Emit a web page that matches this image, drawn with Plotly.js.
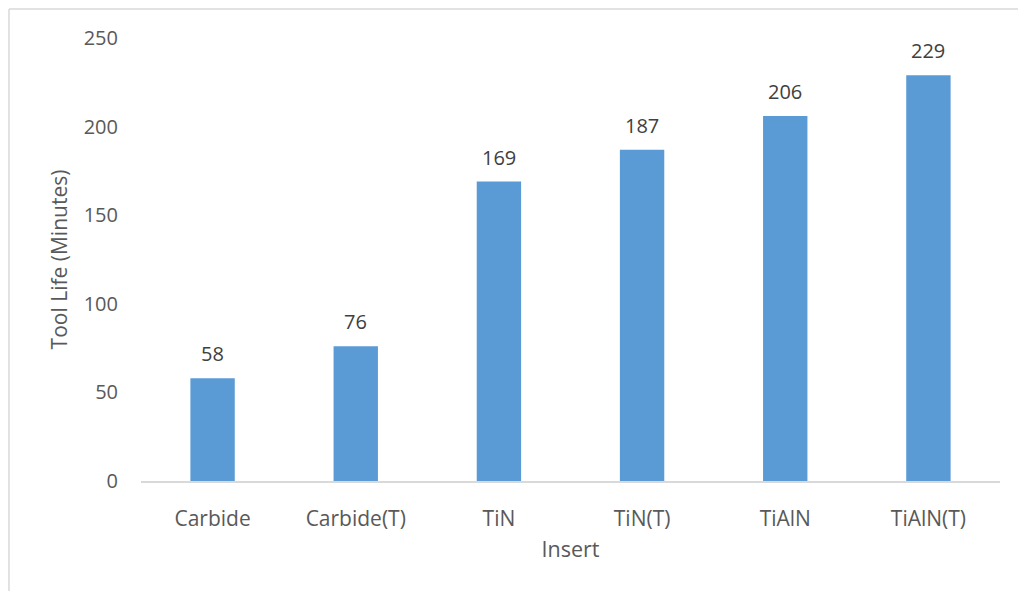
<!DOCTYPE html>
<html>
<head>
<meta charset="utf-8">
<script src="https://cdn.plot.ly/plotly-3.0.1.min.js"></script>
<style>html,body{margin:0;padding:0;background:#fff;}#chart{width:1018px;height:591px;}</style>
</head>
<body>
<div id="chart"></div>
<script>
const categories = ["Carbide", "Carbide(T)", "TiN", "TiN(T)", "TiAlN", "TiAlN(T)"];
const toolLife = [58, 76, 169, 187, 206, 229];
const yTicks = [0, 50, 100, 150, 200, 250];

const FONT = "Open Sans, Noto Sans, sans-serif";
const GREY = "#595959";

const trace = {
  type: "bar",
  x: categories,
  y: toolLife,
  marker: {color: "#5b9bd5"},
  hoverinfo: "skip"
};

const annotations = categories.map((c, i) => ({
  x: c, y: toolLife[i], xref: "x", yref: "y",
  text: String(toolLife[i]), showarrow: false,
  yanchor: "bottom", yshift: 9,
  font: {family: FONT, size: 20, color: "#404040"}
}));

const layout = {
  width: 1018, height: 591,
  margin: {l: 141, r: 18, t: 38, b: 110},
  paper_bgcolor: "#fff", plot_bgcolor: "#fff",
  showlegend: false,
  bargap: 0.69,
  font: {family: FONT, size: 20, color: GREY},
  xaxis: {
    type: "category",
    showline: true, linecolor: "#d9d9d9", linewidth: 1.5,
    ticks: "", ticklabelstandoff: 18,
    tickfont: {family: FONT, size: 21, color: GREY},
    title: {text: "Insert", font: {family: FONT, size: 21.5, color: GREY}, standoff: 11},
    automargin: false
  },
  yaxis: {
    range: [0, 250],
    tickvals: yTicks,
    showgrid: false, zeroline: false, showline: false,
    ticks: "", ticklabelstandoff: 22,
    tickfont: {family: FONT, size: 20, color: GREY},
    title: {text: "Tool Life (Minutes)", font: {family: FONT, size: 21, color: GREY}, standoff: 10},
    automargin: false
  },
  annotations: annotations,
  shapes: [
    {type: "line", xref: "paper", yref: "paper", x0: -0.1537, x1: 1.1, y0: 1.0655, y1: 1.0655, line: {color: "#d9d9d9", width: 1.5}},
    {type: "line", xref: "paper", yref: "paper", x0: -0.1537, x1: -0.1537, y0: 1.0655, y1: -0.3, line: {color: "#d9d9d9", width: 1.5}}
  ]
};

Plotly.newPlot("chart", [trace], layout, {displayModeBar: false, staticPlot: true});
</script>
</body>
</html>
